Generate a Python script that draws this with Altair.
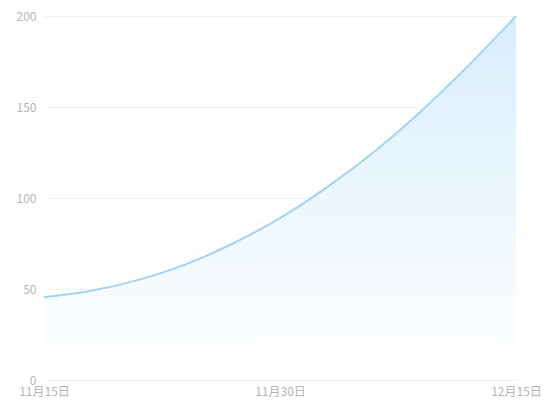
import altair as alt
import pandas as pd

dates = ["2023-11-15", "2023-11-18", "2023-11-21", "2023-11-24",
         "2023-11-27", "2023-11-30", "2023-12-03", "2023-12-06",
         "2023-12-09", "2023-12-12", "2023-12-15"]
values = [45.5, 49, 55, 63.5, 75, 89, 106, 125.5, 148, 173, 200]
y_ticks = [0, 50, 100, 150, 200]

df = pd.DataFrame({"date": dates, "value": values})

x_enc = alt.X(
    "date:T",
    scale=alt.Scale(type="utc"),
    axis=alt.Axis(
        values=[alt.DateTime(year=2023, month=11, date=15, utc=True),
                alt.DateTime(year=2023, month=11, date=30, utc=True),
                alt.DateTime(year=2023, month=12, date=15, utc=True)],
        labelExpr="(utcmonth(datum.value)+1)+'月'+utcdate(datum.value)+'日'",
        title=None, grid=False, domain=False, ticks=False,
        labelColor="#b5b5b5", labelFontSize=12, labelPadding=6,
        labelFont="Noto Sans CJK SC", labelFlush=False,
    ),
)
y_enc = alt.Y(
    "value:Q",
    scale=alt.Scale(domain=[0, 200], nice=False),
    axis=alt.Axis(
        values=y_ticks, title=None, domain=False, ticks=False,
        gridColor="#f2f2f2", gridWidth=1,
        labelColor="#b5b5b5", labelFontSize=12, labelPadding=8,
        labelFont="Noto Sans CJK SC",
    ),
)

area = alt.Chart(df).mark_area(
    interpolate="monotone",
    color=alt.Gradient(
        gradient="linear",
        stops=[alt.GradientStop(color="#d9eefd", offset=0),
               alt.GradientStop(color="#ffffff", offset=1)],
        x1=0, x2=0, y1=0, y2=1,
    ),
).encode(x=x_enc, y=y_enc)

line = alt.Chart(df).mark_line(
    interpolate="monotone", color="#a3d3f3", strokeWidth=2
).encode(x="date:T", y="value:Q")

chart = alt.layer(area, line).properties(
    width=472, height=364,
    autosize=alt.AutoSizeParams(type="none"),
    padding={"left": 36, "top": 8, "right": 26, "bottom": 27},
).configure_view(stroke=None)

chart.save("out.html", embed_options={"renderer": "svg", "actions": False})
